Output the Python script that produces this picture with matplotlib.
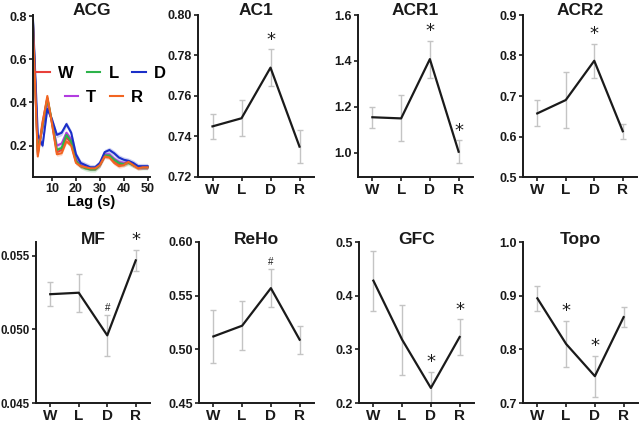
import matplotlib
matplotlib.use("Agg")
import matplotlib.pyplot as plt
from matplotlib.ticker import FormatStrFormatter
from matplotlib.lines import Line2D

plt.rcParams['font.family'] = ['Liberation Sans', 'DejaVu Sans']
plt.rcParams['font.weight'] = 'bold'

# ---------------- data ----------------
lags = [2, 4, 6, 8, 10, 12, 14, 16, 18, 20, 22, 24, 26, 28, 30, 32, 34, 36, 38, 40, 42, 44, 46, 48, 50]
acg_W = [0.76, 0.16, 0.31, 0.42, 0.30, 0.17, 0.18, 0.24, 0.21, 0.125, 0.105, 0.10, 0.095, 0.095, 0.11,
         0.15, 0.15, 0.125, 0.11, 0.115, 0.125, 0.11, 0.10, 0.10, 0.10]
acg_L = [0.77, 0.17, 0.29, 0.42, 0.31, 0.18, 0.19, 0.25, 0.22, 0.13, 0.105, 0.095, 0.09, 0.09, 0.11,
         0.155, 0.155, 0.135, 0.12, 0.115, 0.12, 0.11, 0.10, 0.10, 0.10]
acg_D = [0.78, 0.25, 0.20, 0.37, 0.32, 0.25, 0.26, 0.30, 0.26, 0.16, 0.12, 0.11, 0.10, 0.10, 0.12,
         0.17, 0.18, 0.165, 0.145, 0.135, 0.13, 0.12, 0.105, 0.105, 0.105]
acg_T = [0.77, 0.18, 0.28, 0.40, 0.31, 0.20, 0.21, 0.26, 0.23, 0.14, 0.11, 0.10, 0.095, 0.095, 0.11,
         0.16, 0.16, 0.14, 0.125, 0.12, 0.125, 0.11, 0.10, 0.10, 0.10]
acg_R = [0.75, 0.15, 0.30, 0.43, 0.30, 0.16, 0.165, 0.22, 0.20, 0.12, 0.105, 0.10, 0.095, 0.095, 0.11,
         0.15, 0.145, 0.12, 0.105, 0.11, 0.125, 0.11, 0.095, 0.10, 0.10]
acg_sem = {'W': 0.010, 'L': 0.012, 'D': 0.013, 'T': 0.010, 'R': 0.010}

groups = ['W', 'L', 'D', 'R']

ac1_mean = [0.745, 0.749, 0.774, 0.735]
ac1_err = [0.006, 0.009, 0.009, 0.008]
acr1_mean = [1.155, 1.150, 1.408, 1.005]
acr1_err = [0.045, 0.100, 0.080, 0.050]
acr2_mean = [0.657, 0.690, 0.787, 0.613]
acr2_err = [0.032, 0.070, 0.042, 0.018]
mf_mean = [0.0524, 0.0525, 0.0496, 0.0547]
mf_err = [0.0008, 0.0013, 0.0014, 0.0007]
reho_mean = [0.512, 0.522, 0.557, 0.509]
reho_err = [0.025, 0.023, 0.018, 0.013]
gfc_mean = [0.428, 0.318, 0.228, 0.323]
gfc_err = [0.056, 0.065, 0.030, 0.033]
topo_mean = [0.895, 0.810, 0.750, 0.860]
topo_err = [0.023, 0.043, 0.038, 0.018]

# significance marks: index -> symbol
ac1_sig = {2: '*'}
acr1_sig = {2: '*', 3: '*'}
acr2_sig = {2: '*'}
mf_sig = {2: '#', 3: '*'}
reho_sig = {2: '#'}
gfc_sig = {2: '*', 3: '*'}
topo_sig = {1: '*', 2: '*'}

# ---------------- figure ----------------
W_PX, H_PX = 640, 423
fig = plt.figure(figsize=(6.4, 4.23), dpi=100)


def add_ax(left, top, right, bottom):
    return fig.add_axes([left / W_PX, 1 - bottom / H_PX, (right - left) / W_PX, (bottom - top) / H_PX])


def style(ax, ysize=9):
    for s in ['top', 'right']:
        ax.spines[s].set_visible(False)
    for s in ['left', 'bottom']:
        ax.spines[s].set_linewidth(1.4)
        ax.spines[s].set_color('#1a1a1a')
    ax.tick_params(direction='out', length=3, width=1.2, colors='#1a1a1a', pad=1.5)
    for lab in ax.get_yticklabels():
        lab.set_fontsize(ysize)
        lab.set_fontweight('bold')


def title(ax, txt, dy):
    ax.text(0.5, 1 + dy, txt, transform=ax.transAxes, ha='center', va='center',
            fontsize=12.5, fontweight='bold', color='#1a1a1a')


def cat_panel(ax, mean, err, ylim, yticks, fmt, sig, name, dy, ysize=9):
    x = list(range(len(groups)))
    ax.errorbar(x, mean, yerr=err, fmt='none', ecolor='#c4c4c4', elinewidth=1.0,
                capsize=2, capthick=1.0, zorder=1)
    ax.plot(x, mean, color='#1a1a1a', lw=1.6, zorder=2)
    ax.set_xlim(-0.5, 3.5)
    ax.set_ylim(*ylim)
    ax.set_yticks(yticks)
    ax.yaxis.set_major_formatter(FormatStrFormatter(fmt))
    ax.set_xticks(x)
    ax.set_xticklabels(groups, fontsize=11, fontweight='bold')
    style(ax, ysize)
    for i, sym in sig.items():
        if sym == '*':
            ax.annotate('*', (i, mean[i] + err[i]), xytext=(0, 0.5), textcoords='offset points',
                        ha='center', va='bottom', fontsize=13, fontweight='normal',
                        family='DejaVu Sans', color='#1a1a1a')
        else:
            ax.annotate('#', (i, mean[i] + err[i]), xytext=(0, 1.5), textcoords='offset points',
                        ha='center', va='bottom', fontsize=7, fontweight='normal', color='#1a1a1a')
    title(ax, name, dy)


# ---- ACG ----
ax = add_ax(33, 15, 150, 177)
acg_series = [('T', acg_T, '#b23ce0'), ('W', acg_W, '#e8403a'), ('L', acg_L, '#2db34a'),
              ('D', acg_D, '#1b2fc8'), ('R', acg_R, '#f26522')]
handles = {}
for key, vals, col in acg_series:
    lo = [v - acg_sem[key] for v in vals]
    hi = [v + acg_sem[key] for v in vals]
    ax.fill_between(lags, lo, hi, color=col, alpha=0.22, lw=0)
    ax.plot(lags, vals, color=col, lw=1.5)
    handles[key] = Line2D([], [], color=col, lw=1.5)
ax.set_xlim(2, 51)
ax.set_ylim(0.055, 0.805)
ax.set_xticks([10, 20, 30, 40, 50])
ax.set_yticks([0.2, 0.4, 0.6, 0.8])
ax.yaxis.set_major_formatter(FormatStrFormatter('%.1f'))
style(ax)
for lab in ax.get_xticklabels():
    lab.set_fontsize(9)
    lab.set_fontweight('bold')
ax.set_xlabel('Lag (s)', fontsize=10.5, fontweight='bold', labelpad=0)
title(ax, 'ACG', 0.03)

leg_kw = dict(frameon=False, handlelength=0.8, handletextpad=0.5, columnspacing=0.8,
              prop={'size': 12, 'weight': 'bold'}, borderpad=0, borderaxespad=0)
leg1 = fig.legend([handles['W'], handles['L'], handles['D']], ['W', 'L', 'D'], ncol=3,
                  loc='center', bbox_to_anchor=(101 / W_PX, 1 - 73 / H_PX), **leg_kw)
leg2 = fig.legend([handles['T'], handles['R']], ['T', 'R'], ncol=2,
                  loc='center', bbox_to_anchor=(104 / W_PX, 1 - 97 / H_PX), **leg_kw)

# ---- top row ----
ax = add_ax(198, 15, 314, 177)
cat_panel(ax, ac1_mean, ac1_err, (0.72, 0.80), [0.72, 0.74, 0.76, 0.78, 0.80], '%.2f', ac1_sig, 'AC1', 0.03)
ax = add_ax(358, 15, 473, 177)
cat_panel(ax, acr1_mean, acr1_err, (0.895, 1.6), [1.0, 1.2, 1.4, 1.6], '%.1f', acr1_sig, 'ACR1', 0.03)
ax = add_ax(523, 15, 637, 177)
cat_panel(ax, acr2_mean, acr2_err, (0.5, 0.9), [0.5, 0.6, 0.7, 0.8, 0.9], '%.1f', acr2_sig, 'ACR2', 0.03)

# ---- bottom row ----
ax = add_ax(36, 242, 150, 403)
cat_panel(ax, mf_mean, mf_err, (0.045, 0.05595), [0.045, 0.050, 0.055], '%.3f', mf_sig, 'MF', 0.015,
          ysize=8.3)
ax = add_ax(199, 242, 314, 403)
cat_panel(ax, reho_mean, reho_err, (0.45, 0.60), [0.45, 0.50, 0.55, 0.60], '%.2f', reho_sig, 'ReHo', 0.015)
ax = add_ax(359, 242, 474, 403)
cat_panel(ax, gfc_mean, gfc_err, (0.2, 0.5), [0.2, 0.3, 0.4, 0.5], '%.1f', gfc_sig, 'GFC', 0.015)
ax = add_ax(523, 242, 638, 403)
cat_panel(ax, topo_mean, topo_err, (0.7, 1.0), [0.7, 0.8, 0.9, 1.0], '%.1f', topo_sig, 'Topo', 0.015)

fig.savefig('out.png', dpi=100)
